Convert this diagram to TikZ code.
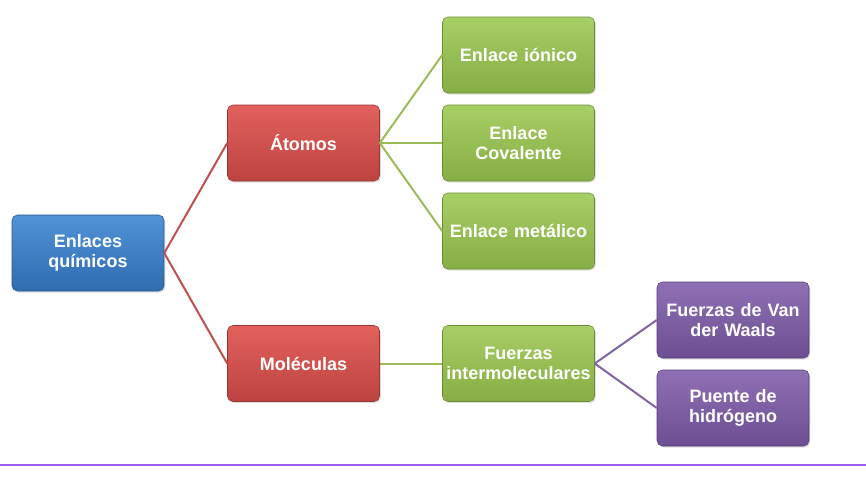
\documentclass[tikz,border=0pt]{standalone}
\usepackage{fontspec}
\setmainfont{Liberation Sans}
\usetikzlibrary{shadows}

\definecolor{bluetop}{HTML}{4F93D6}
\definecolor{bluebot}{HTML}{2F6CB0}
\definecolor{redtop}{HTML}{E2615C}
\definecolor{redbot}{HTML}{BD4340}
\definecolor{greentop}{HTML}{A8CE66}
\definecolor{greenbot}{HTML}{86AE42}
\definecolor{purpletop}{HTML}{8F70B4}
\definecolor{purplebot}{HTML}{6C4E92}
\definecolor{redline}{HTML}{C0504D}
\definecolor{greenline}{HTML}{9BBB59}
\definecolor{purpleline}{HTML}{8064A2}
\definecolor{violetrule}{HTML}{9B5CF6}

\begin{document}
\begin{tikzpicture}[
            x = 0.75pt, y = -0.75pt, % pixel grid
            box/.style = {rounded corners=4pt, minimum width=114pt, minimum height=57pt,
                          text width=113pt, align=center, inner sep=0.5pt,
                          font=\bfseries\fontsize{13.5}{14.5}\selectfont, text=white,
                          drop shadow={opacity=0.25, shadow xshift=1pt, shadow yshift=-1.2pt}},
            bluebox/.style = {box, top color=bluetop, bottom color=bluebot, draw=bluebot!80!black},
            redbox/.style = {box, top color=redtop, bottom color=redbot, draw=redbot!80!black},
            greenbox/.style = {box, top color=greentop, bottom color=greenbot, draw=greenbot!80!black},
            purplebox/.style = {box, top color=purpletop, bottom color=purplebot, draw=purplebot!80!black},
            link/.style = {line width=1.5pt}
        ]
\useasboundingbox (0,0) rectangle (866,480);

\node[bluebox] (Enlaces) at (88,253) {Enlaces\\químicos};

\node[redbox] (Atomos) at (303.5,143) {Átomos};
\node[redbox] (Moleculas) at (303.5,363.5) {Moléculas};

\node[greenbox] (Ionico) at (518.5,55) {Enlace iónico};
\node[greenbox] (Covalente) at (518.5,143) {Enlace\\Covalente};
\node[greenbox] (Metalico) at (518.5,231) {Enlace metálico};
\node[greenbox] (Fuerzas) at (518.5,363.5) {Fuerzas\\intermoleculares};

\node[purplebox] (VdW) at (733,320) {Fuerzas de Van\\der Waals};
\node[purplebox] (Puente) at (733,408) {Puente de\\hidrógeno};

 \path [link, draw=redline] (Enlaces.east) edge (Atomos.west);
 \path [link, draw=redline] (Enlaces.east) edge (Moleculas.west);
 \path [link, draw=greenline] (Atomos.east) edge (Ionico.west);
 \path [link, draw=greenline] (Atomos.east) edge (Covalente.west);
 \path [link, draw=greenline] (Atomos.east) edge (Metalico.west);
 \path [link, draw=greenline] (Moleculas.east) edge (Fuerzas.west);
 \path [link, draw=purpleline] (Fuerzas.east) edge (VdW.west);
 \path [link, draw=purpleline] (Fuerzas.east) edge (Puente.west);

\coordinate (RuleL) at (0,465);
\coordinate (RuleR) at (866,465);
\draw[violetrule, line width=1.6pt] (RuleL) -- (RuleR);
\end{tikzpicture}
\end{document}
